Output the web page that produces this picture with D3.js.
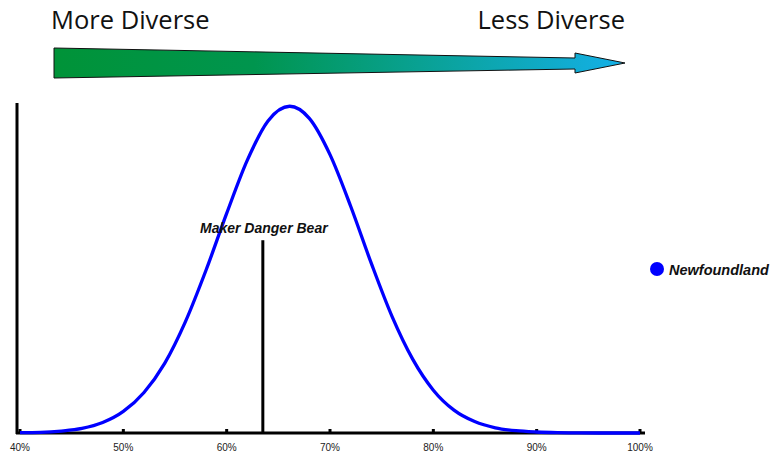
<!DOCTYPE html>
<html lang="en">
<head>
    <script src="https://d3js.org/d3.v7.min.js"></script>
    <style>
        body { margin: 0; background: #fff; }
    </style>
</head>
<body>
    <script>
        // curve points (x in %, relative height)
        const xPct = [40, 42, 44, 46, 48, 50, 52, 54, 56, 58, 60, 62, 64, 66.1, 68, 70, 72, 74, 76, 78, 80, 82, 84, 86, 88, 90, 92, 94, 96, 100];
        const yVal = [0.001, 0.002, 0.006, 0.014, 0.032, 0.066, 0.124, 0.213, 0.340, 0.498, 0.672, 0.835, 0.955, 1.0, 0.963, 0.852, 0.694, 0.519, 0.357, 0.226, 0.131, 0.070, 0.035, 0.016, 0.007, 0.003, 0.001, 0.0003, 0, 0];
        const tickVals = [40, 50, 60, 70, 80, 90, 100];
        const markerName = "Maker Danger Bear";
        const markerPct = 63.5;
        const markerHeight = 0.59;
        const seriesName = "Newfoundland";

        const width = 771, height = 453;
        const svg = d3.select("body").append("svg")
            .attr("width", width)
            .attr("height", height);

        const x = d3.scaleLinear().domain([40, 100]).range([20, 640]);
        const y = d3.scaleLinear().domain([0, 1.01]).range([433, 103]);

        // gradient arrow at the top
        const defs = svg.append("defs");
        const grad = defs.append("linearGradient").attr("id", "arrowGrad")
            .attr("x1", "0%").attr("x2", "100%");
        grad.append("stop").attr("offset", "0%").attr("stop-color", "#009338");
        grad.append("stop").attr("offset", "35%").attr("stop-color", "#00954e");
        grad.append("stop").attr("offset", "100%").attr("stop-color", "#14b0e8");

        svg.append("polygon")
            .attr("points", "54,48 575,58 575,53 625,63 575,73 575,69 54,78")
            .attr("fill", "url(#arrowGrad)")
            .attr("stroke", "#111")
            .attr("stroke-width", 1);

        svg.append("text").attr("x", 51).attr("y", 29)
            .style("font-family", "Open Sans, sans-serif").style("font-size", "25.5px")
            .attr("fill", "#111").text("More Diverse");
        svg.append("text").attr("x", 625).attr("y", 29).attr("text-anchor", "end")
            .style("font-family", "Open Sans, sans-serif").style("font-size", "25.5px")
            .attr("fill", "#111").text("Less Diverse");

        // axes
        svg.append("line").attr("x1", 17).attr("x2", 17).attr("y1", 103).attr("y2", 434)
            .attr("stroke", "#000").attr("stroke-width", 3);
        svg.append("line").attr("x1", 16).attr("x2", 645).attr("y1", 433).attr("y2", 433)
            .attr("stroke", "#000").attr("stroke-width", 3);

        svg.selectAll(".tick").data(tickVals).enter().append("rect")
            .attr("x", d => x(d) - 1.5).attr("y", 429).attr("width", 3).attr("height", 4)
            .attr("fill", "#000");

        svg.selectAll(".tlabel").data(tickVals).enter().append("text")
            .attr("x", d => x(d)).attr("y", 451).attr("text-anchor", "middle")
            .style("font-family", "Liberation Sans, Arial, sans-serif").style("font-size", "10px")
            .attr("fill", "#222").text(d => d + "%");

        // curve
        const pts = xPct.map((d, i) => [d, yVal[i]]);
        svg.append("path").datum(pts)
            .attr("d", d3.line().x(d => x(d[0])).y(d => y(d[1])).curve(d3.curveMonotoneX))
            .attr("fill", "none").attr("stroke", "#0000ff").attr("stroke-width", 3.3);

        // marker
        svg.append("line").attr("x1", x(markerPct)).attr("x2", x(markerPct))
            .attr("y1", y(markerHeight)).attr("y2", 433)
            .attr("stroke", "#000").attr("stroke-width", 3);
        svg.append("text").attr("x", x(markerPct) + 1).attr("y", y(markerHeight) - 7)
            .attr("text-anchor", "middle")
            .style("font-family", "Liberation Sans, Arial, sans-serif").style("font-size", "14px")
            .style("font-weight", "bold").style("font-style", "italic")
            .attr("fill", "#111").text(markerName);

        // legend
        svg.append("circle").attr("cx", 657).attr("cy", 269).attr("r", 7).attr("fill", "#0000ff");
        svg.append("text").attr("x", 669).attr("y", 275)
            .style("font-family", "Liberation Sans, Arial, sans-serif").style("font-size", "14.5px")
            .style("font-weight", "bold").style("font-style", "italic")
            .attr("fill", "#111").text(seriesName);
    </script>
</body>
</html>
